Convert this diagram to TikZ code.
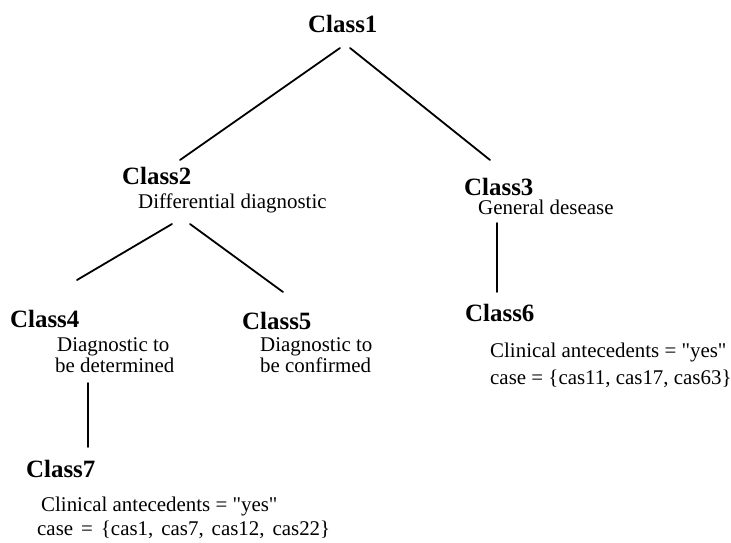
\documentclass[tikz,border=0pt]{standalone}
\usepackage{fontspec}
\setmainfont{Liberation Serif}
% plain instance of the text face, without the TeX quote mapping, for straight quotes
\font\plainqfont="Liberation Serif" at 21pt
\newcommand{\sq}{{\plainqfont\char34}}
\begin{document}
\begin{tikzpicture}[x=1bp,y=-1bp,
  classname/.style={anchor=base west, inner sep=0pt, font=\fontsize{25}{30}\selectfont\bfseries},
  note/.style={anchor=base west, inner sep=0pt, font=\fontsize{21}{25}\selectfont},
  edge/.style={line width=1.8bp, line cap=round}]
\useasboundingbox[fill=white] (0,0) rectangle (731,543);

% class titles and their descriptions
\node[classname] (c1) at (308,33) {Class1};

\node[classname] (c2) at (122,185) {Class2};
\node[note] (c2d) at (138,209) {Differential diagnostic};

\node[classname] (c3) at (464,196) {Class3};
\node[note] (c3d) at (478,215) {General desease};

\node[classname] (c4) at (10,327) {Class4};
\node[note] (c4d) at (57,351) {Diagnostic to};
\node[note] (c4e) at (55,372) {be determined};

\node[classname] (c5) at (242,329) {Class5};
\node[note] (c5d) at (260,351) {Diagnostic to};
\node[note] (c5e) at (260,372) {be confirmed};

\node[classname] (c6) at (465,321) {Class6};
\node[note] (c6a) at (490,357) {Clinical antecedents = \sq yes\sq};
\node[note] (c6b) at (490,384) {case = \{cas11, cas17, cas63\}};

\node[classname] (c7) at (26,477) {Class7};
\node[note] (c7a) at (41,511) {Clinical antecedents = \sq yes\sq};
\node[note] (c7b) at (37,535) {\spaceskip=8pt\relax case = \{cas1, cas7, cas12, cas22\}};

% end points of the tree branches
\coordinate (c1l) at (340,48);
\coordinate (c1r) at (350,48);
\coordinate (c2t) at (180,160);
\coordinate (c3t) at (490,160);
\coordinate (c2l) at (172,224);
\coordinate (c2r) at (190,224);
\coordinate (c4t) at (77,280);
\coordinate (c5t) at (283,292);
\coordinate (c3b) at (497,223);
\coordinate (c6t) at (497,292);
\coordinate (c4b) at (88,383);
\coordinate (c7t) at (88,447);

% branches
\draw[edge] (c1l) -- (c2t);
\draw[edge] (c1r) -- (c3t);
\draw[edge] (c2l) -- (c4t);
\draw[edge] (c2r) -- (c5t);
\draw[edge] (c3b) -- (c6t);
\draw[edge] (c4b) -- (c7t);
\end{tikzpicture}
\end{document}
